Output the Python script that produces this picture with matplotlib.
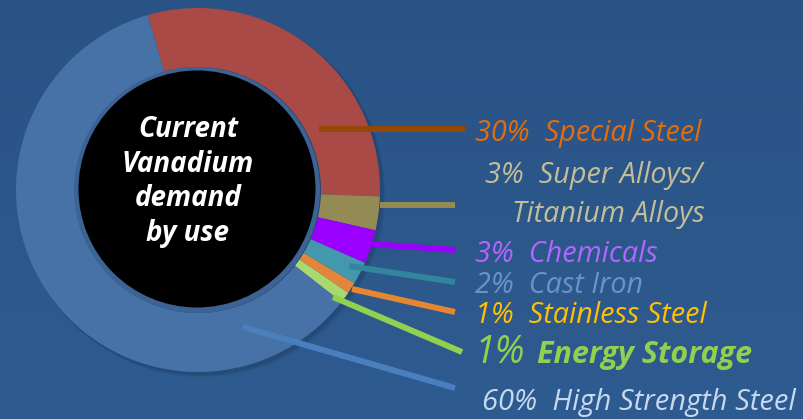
import numpy as np
import matplotlib.pyplot as plt
from matplotlib.patches import Circle

# data
categories = ["Special Steel", "Super Alloys/\nTitanium Alloys", "Chemicals", "Cast Iron",
              "Stainless Steel", "Energy Storage", "High Strength Steel"]
shares = [30, 3, 3, 2, 1, 1, 60]
wedge_colors = ["#A94A46", "#948A54", "#9900FF", "#4398AE", "#E3853A", "#A9D96E", "#4672A8"]
line_colors = ["#974706", "#948A54", "#9900FF", "#31859C", "#E4872F", "#92D050", "#4A7EBF"]
label_colors = ["#E46C0A", "#C4BD97", "#B266FF", "#6A93C8", "#FFC000", "#92D050", "#C6D9F1"]

W, H = 804, 419
BG = "#2C588C"
FONT = "Open Sans"


def py(y):
    # pixel row -> data y
    return H - y


fig = plt.figure(figsize=(W / 100, H / 100), dpi=100)
ax = fig.add_axes([0, 0, 1, 1])

# background, slightly darker towards the bottom
grad = np.linspace(0, 1, 256).reshape(-1, 1)
ax.imshow(grad, extent=(0, W, 0, H), aspect="auto", zorder=0,
          cmap=plt.matplotlib.colors.LinearSegmentedColormap.from_list("bg", ["#2A5385", "#2E5B90"]))

cx, cy = 198, py(190)
r_out, r_in = 182, 123

# soft shadow under the ring
for k, a in enumerate([0.05, 0.05, 0.05]):
    ax.add_patch(Circle((cx + 2 + k, cy - 2 - k), r_out + 1, color="black", alpha=a, lw=0, zorder=1))

wedges, _ = ax.pie(shares, colors=wedge_colors, startangle=106, counterclock=False,
                   center=(cx, cy), radius=r_out,
                   wedgeprops=dict(width=r_out - r_in, linewidth=0))
for w in wedges:
    w.set_zorder(2)

# inner disc with its rim
ax.add_patch(Circle((cx - 1, cy), r_in, color="#3C6393", lw=0, zorder=3))
ax.add_patch(Circle((cx - 1, cy + 1), r_in - 4.5, color="black", lw=0, zorder=4))

center_lines = ["Current", "Vanadium", "demand", "by use"]
for i, s in enumerate(center_lines):
    ax.text(188, py(137 + i * 34.7), s, color="white", fontsize=20, fontweight="bold",
            fontstyle="italic", family=FONT, ha="center", va="baseline", zorder=5)

# leader lines: (start, end) in pixels
leaders = [((319, 129), (465, 129)),
           ((380, 205), (455, 205)),
           ((372, 244), (455, 250)),
           ((349, 266), (455, 282)),
           ((352, 289), (455, 312)),
           ((333, 297), (462, 352)),
           ((243, 327), (455, 388))]
for (p0, p1), c in zip(leaders, line_colors):
    ax.plot([p0[0], p1[0]], [py(p0[1]), py(p1[1])], color=c, lw=4.3,
            solid_capstyle="butt", zorder=6)

# labels
pct = [f"{v}%" for v in shares]
fs = 20.7
txt_kw = dict(fontstyle="italic", family=FONT, va="baseline", zorder=7)
ax.text(475, py(141), f"{pct[0]}  {categories[0]}", color=label_colors[0], fontsize=fs, **txt_kw)
top, bottom = categories[1].split("\n")
ax.text(485, py(183), f"{pct[1]}  {top}", color=label_colors[1], fontsize=fs, **txt_kw)
ax.text(512, py(222), bottom, color=label_colors[1], fontsize=fs, **txt_kw)
ax.text(475, py(262), f"{pct[2]}  {categories[2]}", color=label_colors[2], fontsize=fs, **txt_kw)
ax.text(475, py(293), f"{pct[3]}  {categories[3]}", color=label_colors[3], fontsize=fs, **txt_kw)
ax.text(475, py(323), f"{pct[4]}  {categories[4]}", color=label_colors[4], fontsize=fs, **txt_kw)
ax.text(475, py(363), pct[5], color=label_colors[5], fontsize=27, **txt_kw)
ax.text(537, py(363), categories[5], color=label_colors[5], fontsize=22, fontweight="bold", **txt_kw)
ax.text(482, py(410), f"{pct[6]}  {categories[6]}", color=label_colors[6], fontsize=21, **txt_kw)

ax.set_xlim(0, W)
ax.set_ylim(0, H)
ax.set_aspect("auto")
ax.axis("off")

fig.savefig("out.png", dpi=100, facecolor=BG)
